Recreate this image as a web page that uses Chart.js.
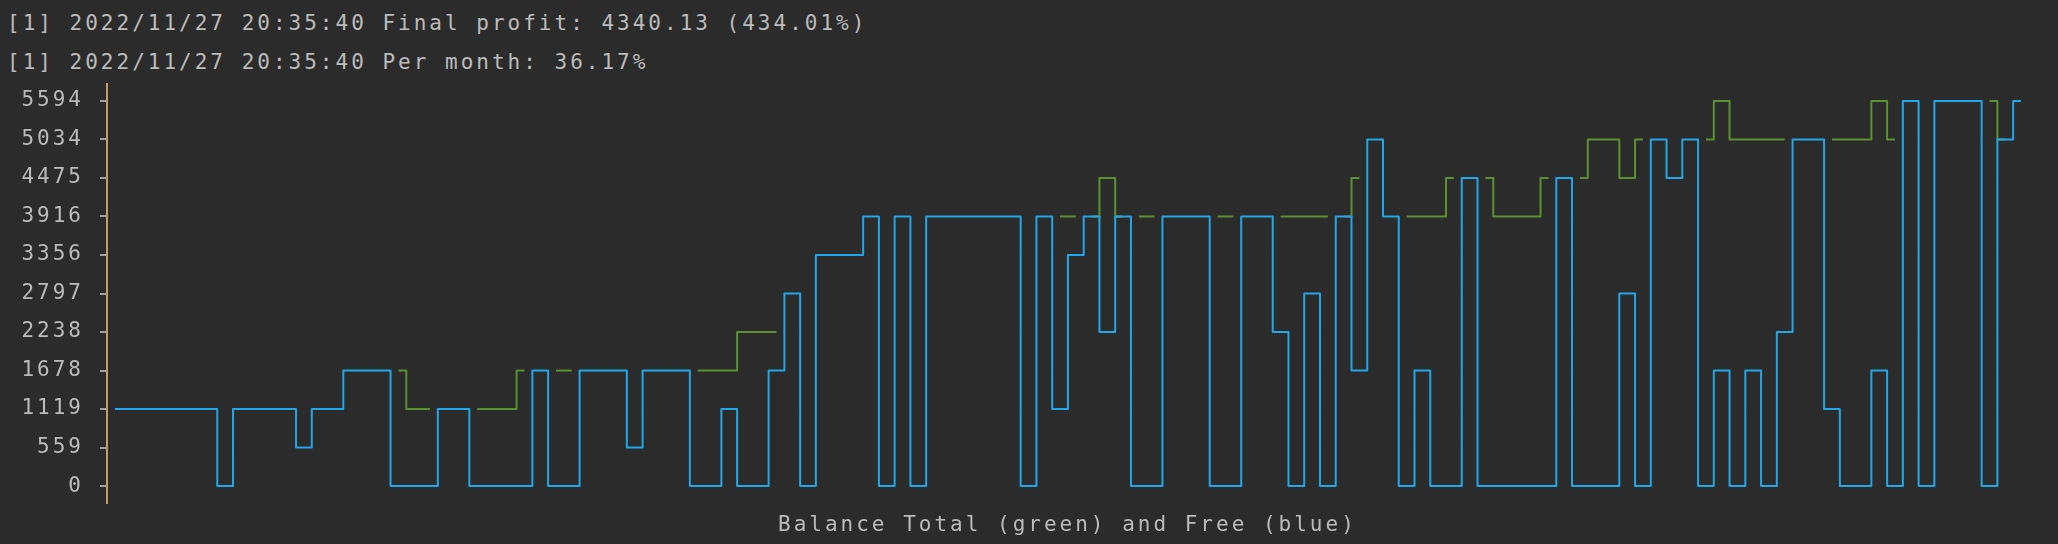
<!DOCTYPE html>
<html>
<head>
<meta charset="utf-8">
<title>Balance Total and Free</title>
<script src="https://cdn.jsdelivr.net/npm/chart.js@4.4.1/dist/chart.umd.min.js"></script>
<style>
    html, body {
        margin: 0;
        padding: 0;
        background: #2b2b2b;
        width: 2058px;
        height: 544px;
        overflow: hidden;
    }
    .term {
        position: absolute;
        font-family: 'DejaVu Sans Mono', monospace;
        font-size: 21px;
        letter-spacing: 3px;
        line-height: 38.5px;
        height: 38.5px;
        color: #bbbbbb;
        white-space: pre;
    }
    #wrap {
        position: absolute;
        left: 0;
        top: 0;
        width: 2058px;
        height: 544px;
    }
</style>
</head>
<body>
<div class="term" style="left: 7px; top: 4px;">[1] 2022/11/27 20:35:40 Final profit: 4340.13 (434.01%)</div>
<div class="term" style="left: 7px; top: 43px;">[1] 2022/11/27 20:35:40 Per month: 36.17%</div>
<div id="wrap"><canvas id="balance_chart"></canvas></div>
<div class="term" style="left: 778px; top: 505px;">Balance Total (green) and Free (blue)</div>

<script>
// one entry per bar of the log (122 samples)
const steps = Array.from({length: 122}, (v, i) => i);

const tickValues = [0, 559, 1119, 1678, 2238, 2797, 3356, 3916, 4475, 5034, 5594];
const tickLabels = ['0', '559', '1119', '1678', '2238', '2797', '3356', '3916', '4475', '5034', '5594'];

// free balance (blue)
const free = [
    1119, 1119, 1119, 1119, 1119, 1119, 1119, 0, 1119, 1119,
    1119, 1119, 559, 1119, 1119, 1678, 1678, 1678, 0, 0,
    0, 1119, 1119, 0, 0, 0, 0, 1678, 0, 0,
    1678, 1678, 1678, 559, 1678, 1678, 1678, 0, 0, 1119,
    0, 0, 1678, 2797, 0, 3356, 3356, 3356, 3916, 0,
    3916, 0, 3916, 3916, 3916, 3916, 3916, 3916, 0, 3916,
    1119, 3356, 3916, 2238, 3916, 0, 0, 3916, 3916, 3916,
    0, 0, 3916, 3916, 2238, 0, 2797, 0, 3916, 1678,
    5034, 3916, 0, 1678, 0, 0, 4475, 0, 0, 0,
    0, 0, 4475, 0, 0, 0, 2797, 0, 5034, 4475,
    5034, 0, 1678, 0, 1678, 0, 2238, 5034, 5034, 1119,
    0, 0, 1678, 0, 5594, 0, 5594, 5594, 5594, 0,
    5034, 5594
];

// total balance (green)
const total = [
    1119, 1119, 1119, 1119, 1119, 1119, 1119, 1119, 1119, 1119,
    1119, 1119, 1119, 1119, 1119, 1678, 1678, 1678, 1678, 1119,
    1119, 1119, 1119, 1119, 1119, 1119, 1678, 1678, 1678, 1678,
    1678, 1678, 1678, 1678, 1678, 1678, 1678, 1678, 1678, 1678,
    2238, 2238, 2238, 2797, 2797, 3356, 3356, 3356, 3916, 3916,
    3916, 3916, 3916, 3916, 3916, 3916, 3916, 3916, 3916, 3916,
    3916, 3916, 3916, 4475, 3916, 3916, 3916, 3916, 3916, 3916,
    3916, 3916, 3916, 3916, 3916, 3916, 3916, 3916, 3916, 4475,
    5034, 3916, 3916, 3916, 3916, 4475, 4475, 4475, 3916, 3916,
    3916, 4475, 4475, 4475, 5034, 5034, 4475, 5034, 5034, 5034,
    5034, 5034, 5594, 5034, 5034, 5034, 5034, 5034, 5034, 5034,
    5034, 5034, 5594, 5034, 5594, 5594, 5594, 5594, 5594, 5594,
    5034, 5594
];

const blue = '#22a6e6';
const green = '#5b9130';

// the blue line is printed over the green one, so a green step that
// falls inside the span of the blue step in the same column is not seen
function greenSegment(ctx) {
    let i = ctx.p0DataIndex;
    let j = ctx.p1DataIndex;
    let lo = Math.min(free[i], free[j]);
    let hi = Math.max(free[i], free[j]);

    if (Math.min(total[i], total[j]) >= lo && Math.max(total[i], total[j]) <= hi) {
        return 'rgba(0,0,0,0)';
    }
    return green;
}

// the terminal font is spread out to fill its character cells
const letterSpacing = {
    id: 'letterSpacing',
    beforeDraw(chart) {
        chart.ctx.letterSpacing = '3px';
    }
};

new Chart('balance_chart', {
    type: 'line',
    data: {
        labels: steps,
        datasets: [{
            label: 'Free',
            data: free,
            borderColor: blue,
            borderWidth: 2,
            pointRadius: 0,
            stepped: 'middle',
            borderJoinStyle: 'round',
            order: 0
        }, {
            label: 'Total',
            data: total,
            borderColor: green,
            borderWidth: 2,
            pointRadius: 0,
            stepped: 'middle',
            borderJoinStyle: 'round',
            segment: {
                borderColor: greenSegment
            },
            order: 1
        }]
    },
    options: {
        responsive: true,
        maintainAspectRatio: false,
        animation: false,
        layout: {
            padding: {left: 0, right: 37, top: 84, bottom: 41}
        },
        plugins: {
            legend: {display: false},
            tooltip: {enabled: false}
        },
        scales: {
            x: {
                type: 'linear',
                display: false,
                min: -0.5,
                max: 121
            },
            y: {
                min: -246,
                max: 5840,
                afterFit(axis) {
                    axis.width = 107;
                },
                afterBuildTicks(axis) {
                    axis.ticks = tickValues.map(v => ({value: v}));
                },
                ticks: {
                    autoSkip: false,
                    padding: 16,
                    color: '#bbbbbb',
                    font: {family: 'DejaVu Sans Mono', size: 21},
                    callback(value, index) {
                        return tickLabels[index];
                    }
                },
                grid: {
                    drawOnChartArea: false,
                    drawTicks: true,
                    tickLength: 7,
                    color: '#a0a0a0',
                    lineWidth: 2
                },
                border: {
                    display: true,
                    color: '#c8996b',
                    width: 2
                }
            }
        }
    },
    plugins: [letterSpacing]
});
</script>
</body>
</html>
